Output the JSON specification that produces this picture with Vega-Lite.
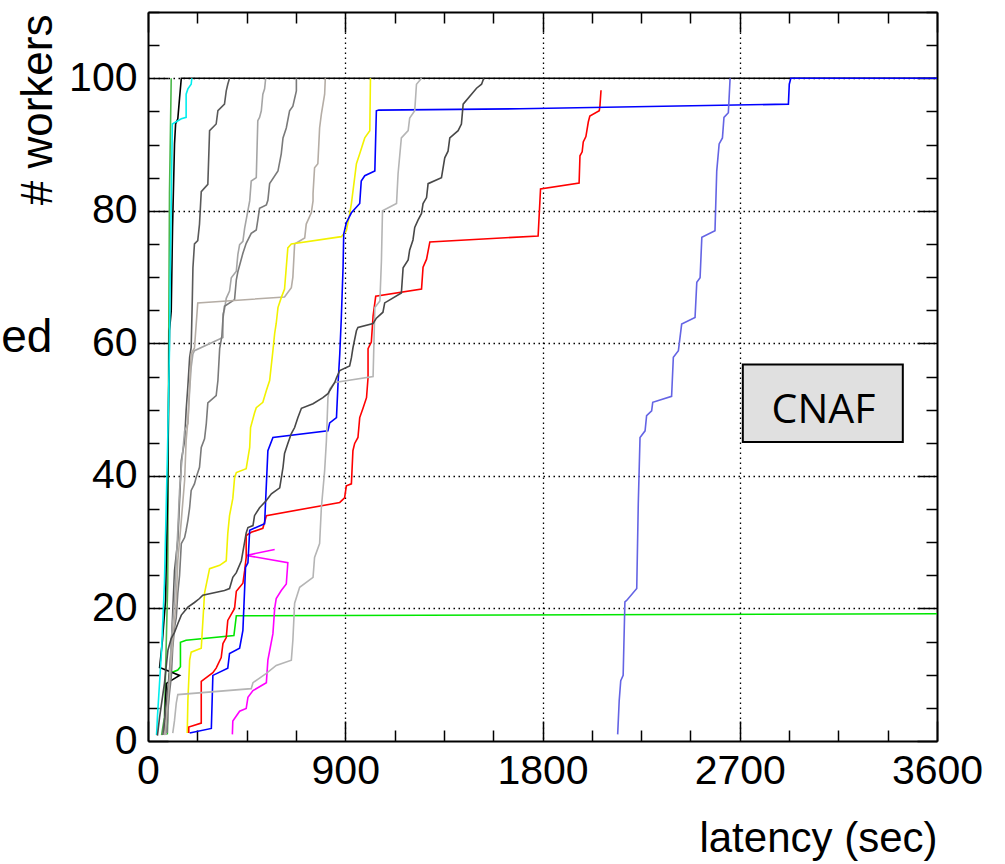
{
"$schema": "https://vega.github.io/schema/vega-lite/v6.json",
"width": 789, "height": 729,
"autosize": {"type": "none"},
"padding": {"left": 148, "top": 12, "right": 68, "bottom": 123},
"background": "white",
"config": {"view": {"stroke": null}, "font": "Liberation Sans"},
"datasets": {
"box": [{"x": 2714, "x2": 3444, "y": 45.1, "y2": 56.8, "tx": 3082, "ty": 48.0, "label": "CNAF"}],
"side": [{"x": -436, "y": 58.7, "label": "ed"}],
"lines": [
{"s":"s01","x":88,"y":1},{"s":"s01","x":90,"y":6},{"s":"s01","x":98,"y":10.2},{"s":"s01","x":136,"y":10.7},{"s":"s01","x":148,"y":11.2},{"s":"s01","x":148,"y":14.9},{"s":"s01","x":174,"y":15.2},{"s":"s01","x":392,"y":15.9},{"s":"s01","x":403,"y":18.9},{"s":"s01","x":3600,"y":19.2},
{"s":"s02","x":62,"y":0.9},{"s":"s02","x":75,"y":3.6},{"s":"s02","x":90,"y":23.8},{"s":"s02","x":94,"y":57.4},{"s":"s02","x":98,"y":82.6},{"s":"s02","x":106,"y":100},
{"s":"s03","x":75,"y":0.9},{"s":"s03","x":80,"y":6.1},{"s":"s03","x":84,"y":8.7},{"s":"s03","x":144,"y":9.9},{"s":"s03","x":53,"y":11.1},{"s":"s03","x":66,"y":15.2},{"s":"s03","x":80,"y":21.2},{"s":"s03","x":89,"y":36.3},{"s":"s03","x":94,"y":51.4},{"s":"s03","x":98,"y":61.9},{"s":"s03","x":106,"y":64.9},{"s":"s03","x":112,"y":77.4},{"s":"s03","x":121,"y":90.1},{"s":"s03","x":126,"y":93.1},{"s":"s03","x":136,"y":93.9},{"s":"s03","x":144,"y":97},{"s":"s03","x":152,"y":100},{"s":"s03","x":3600,"y":100},
{"s":"s04","x":39,"y":0.9},{"s":"s04","x":43,"y":3.6},{"s":"s04","x":62,"y":13.7},{"s":"s04","x":75,"y":23.8},{"s":"s04","x":89,"y":43.8},{"s":"s04","x":98,"y":59.2},{"s":"s04","x":103,"y":74.1},{"s":"s04","x":111,"y":93.1},{"s":"s04","x":152,"y":93.9},{"s":"s04","x":174,"y":94.1},{"s":"s04","x":174,"y":97.6},{"s":"s04","x":182,"y":98.4},{"s":"s04","x":197,"y":99.1},{"s":"s04","x":200,"y":100},
{"s":"s05","x":68,"y":0.9},{"s":"s05","x":75,"y":3.1},{"s":"s05","x":90,"y":7.6},{"s":"s05","x":106,"y":13.7},{"s":"s05","x":113,"y":19.6},{"s":"s05","x":121,"y":25.7},{"s":"s05","x":136,"y":30.3},{"s":"s05","x":144,"y":36.3},{"s":"s05","x":152,"y":42.3},{"s":"s05","x":167,"y":45.3},{"s":"s05","x":174,"y":49.9},{"s":"s05","x":182,"y":53.6},{"s":"s05","x":190,"y":57.9},{"s":"s05","x":197,"y":59.4},{"s":"s05","x":202,"y":66.4},{"s":"s05","x":205,"y":71.4},{"s":"s05","x":212,"y":75},{"s":"s05","x":227,"y":75.5},{"s":"s05","x":235,"y":78},{"s":"s05","x":243,"y":82.9},{"s":"s05","x":273,"y":84},{"s":"s05","x":281,"y":92.1},{"s":"s05","x":311,"y":93.1},{"s":"s05","x":319,"y":95.1},{"s":"s05","x":349,"y":96.1},{"s":"s05","x":357,"y":98.1},{"s":"s05","x":364,"y":99.1},{"s":"s05","x":372,"y":100},
{"s":"s06","x":83,"y":0.9},{"s":"s06","x":90,"y":3.1},{"s":"s06","x":98,"y":9.1},{"s":"s06","x":106,"y":15.2},{"s":"s06","x":121,"y":21.2},{"s":"s06","x":129,"y":27.2},{"s":"s06","x":136,"y":31.8},{"s":"s06","x":144,"y":37.8},{"s":"s06","x":152,"y":41.3},{"s":"s06","x":159,"y":43.8},{"s":"s06","x":167,"y":46.8},{"s":"s06","x":182,"y":47.9},{"s":"s06","x":190,"y":52.9},{"s":"s06","x":197,"y":56.4},{"s":"s06","x":205,"y":58.4},{"s":"s06","x":212,"y":58.9},{"s":"s06","x":342,"y":60.9},{"s":"s06","x":342,"y":64.4},{"s":"s06","x":349,"y":65.1},{"s":"s06","x":357,"y":66.8},{"s":"s06","x":372,"y":67.9},{"s":"s06","x":380,"y":69.9},{"s":"s06","x":403,"y":70.9},{"s":"s06","x":410,"y":73.4},{"s":"s06","x":418,"y":74.9},{"s":"s06","x":433,"y":75.4},{"s":"s06","x":441,"y":77.4},{"s":"s06","x":464,"y":81.5},{"s":"s06","x":471,"y":84.5},{"s":"s06","x":494,"y":85},{"s":"s06","x":501,"y":93.6},{"s":"s06","x":509,"y":94.1},{"s":"s06","x":517,"y":95.1},{"s":"s06","x":524,"y":97.6},{"s":"s06","x":532,"y":98.4},{"s":"s06","x":537,"y":100},
{"s":"s07","x":88,"y":1.2},{"s":"s07","x":90,"y":4.6},{"s":"s07","x":98,"y":7.2},{"s":"s07","x":106,"y":9.6},{"s":"s07","x":113,"y":14.1},{"s":"s07","x":121,"y":17.1},{"s":"s07","x":129,"y":18.6},{"s":"s07","x":136,"y":22.3},{"s":"s07","x":144,"y":25},{"s":"s07","x":152,"y":29.8},{"s":"s07","x":167,"y":30.7},{"s":"s07","x":174,"y":31.8},{"s":"s07","x":182,"y":33.3},{"s":"s07","x":190,"y":35.2},{"s":"s07","x":197,"y":37.8},{"s":"s07","x":212,"y":38.8},{"s":"s07","x":220,"y":39.8},{"s":"s07","x":235,"y":41.3},{"s":"s07","x":243,"y":44.3},{"s":"s07","x":258,"y":45.6},{"s":"s07","x":266,"y":47.9},{"s":"s07","x":273,"y":51},{"s":"s07","x":311,"y":52.1},{"s":"s07","x":319,"y":54.4},{"s":"s07","x":327,"y":59.2},{"s":"s07","x":337,"y":61.1},{"s":"s07","x":342,"y":63.7},{"s":"s07","x":349,"y":65.6},{"s":"s07","x":395,"y":66.6},{"s":"s07","x":403,"y":69.6},{"s":"s07","x":410,"y":70.8},{"s":"s07","x":433,"y":73.6},{"s":"s07","x":448,"y":75.1},{"s":"s07","x":471,"y":76.6},{"s":"s07","x":494,"y":77.1},{"s":"s07","x":501,"y":78.6},{"s":"s07","x":509,"y":80.4},{"s":"s07","x":540,"y":80.9},{"s":"s07","x":547,"y":81.6},{"s":"s07","x":555,"y":84.1},{"s":"s07","x":593,"y":86},{"s":"s07","x":608,"y":88.6},{"s":"s07","x":616,"y":91},{"s":"s07","x":631,"y":92.5},{"s":"s07","x":646,"y":95.1},{"s":"s07","x":661,"y":95.8},{"s":"s07","x":677,"y":98.1},{"s":"s07","x":677,"y":100},
{"s":"s08","x":75,"y":0.9},{"s":"s08","x":83,"y":3.1},{"s":"s08","x":98,"y":9.1},{"s":"s08","x":113,"y":15.2},{"s":"s08","x":129,"y":21.2},{"s":"s08","x":136,"y":27.2},{"s":"s08","x":152,"y":33.3},{"s":"s08","x":167,"y":39.3},{"s":"s08","x":174,"y":45.3},{"s":"s08","x":182,"y":48.3},{"s":"s08","x":190,"y":53.6},{"s":"s08","x":197,"y":58.4},{"s":"s08","x":212,"y":59.3},{"s":"s08","x":227,"y":66.1},{"s":"s08","x":623,"y":67},{"s":"s08","x":654,"y":68.4},{"s":"s08","x":661,"y":70},{"s":"s08","x":669,"y":75},{"s":"s08","x":715,"y":75.9},{"s":"s08","x":722,"y":78},{"s":"s08","x":745,"y":79.7},{"s":"s08","x":753,"y":81.5},{"s":"s08","x":753,"y":82.6},{"s":"s08","x":760,"y":86.5},{"s":"s08","x":775,"y":87.1},{"s":"s08","x":783,"y":92.5},{"s":"s08","x":791,"y":94.6},{"s":"s08","x":806,"y":97.6},{"s":"s08","x":809,"y":100},
{"s":"s09","x":179,"y":1.2},{"s":"s09","x":182,"y":6.1},{"s":"s09","x":190,"y":12.2},{"s":"s09","x":197,"y":13.4},{"s":"s09","x":243,"y":14},{"s":"s09","x":258,"y":22.3},{"s":"s09","x":281,"y":26},{"s":"s09","x":327,"y":26.5},{"s":"s09","x":357,"y":27.2},{"s":"s09","x":364,"y":31.3},{"s":"s09","x":372,"y":34},{"s":"s09","x":387,"y":36.6},{"s":"s09","x":395,"y":39.7},{"s":"s09","x":403,"y":40.5},{"s":"s09","x":448,"y":41.1},{"s":"s09","x":464,"y":44.3},{"s":"s09","x":468,"y":47.3},{"s":"s09","x":486,"y":49.5},{"s":"s09","x":494,"y":50.3},{"s":"s09","x":524,"y":51.1},{"s":"s09","x":540,"y":52.9},{"s":"s09","x":555,"y":54.4},{"s":"s09","x":570,"y":58.9},{"s":"s09","x":578,"y":61.5},{"s":"s09","x":585,"y":63},{"s":"s09","x":593,"y":65.4},{"s":"s09","x":608,"y":66.9},{"s":"s09","x":623,"y":68.2},{"s":"s09","x":638,"y":74.4},{"s":"s09","x":654,"y":75},{"s":"s09","x":882,"y":76.1},{"s":"s09","x":905,"y":77},{"s":"s09","x":920,"y":79.5},{"s":"s09","x":928,"y":81.1},{"s":"s09","x":943,"y":85},{"s":"s09","x":951,"y":87.1},{"s":"s09","x":966,"y":88.6},{"s":"s09","x":989,"y":91},{"s":"s09","x":1012,"y":92.1},{"s":"s09","x":1015,"y":100},
{"s":"s10","x":385,"y":1},{"s":"s10","x":387,"y":3},{"s":"s10","x":418,"y":4.5},{"s":"s10","x":448,"y":4.9},{"s":"s10","x":456,"y":6.6},{"s":"s10","x":479,"y":7.6},{"s":"s10","x":540,"y":8.8},{"s":"s10","x":547,"y":12.2},{"s":"s10","x":570,"y":16.2},{"s":"s10","x":578,"y":20},{"s":"s10","x":585,"y":21.5},{"s":"s10","x":608,"y":22.7},{"s":"s10","x":631,"y":23.7},{"s":"s10","x":638,"y":26.9},{"s":"s10","x":448,"y":28},{"s":"s10","x":578,"y":28.9},
{"s":"s11","x":186,"y":1.2},{"s":"s11","x":186,"y":2.1},{"s":"s11","x":243,"y":2.7},{"s":"s11","x":243,"y":9},{"s":"s11","x":296,"y":10.3},{"s":"s11","x":311,"y":11},{"s":"s11","x":334,"y":12.6},{"s":"s11","x":342,"y":14.7},{"s":"s11","x":357,"y":15.6},{"s":"s11","x":364,"y":18.2},{"s":"s11","x":395,"y":20},{"s":"s11","x":403,"y":22.6},{"s":"s11","x":433,"y":23.8},{"s":"s11","x":441,"y":25.7},{"s":"s11","x":448,"y":27.7},{"s":"s11","x":448,"y":31},{"s":"s11","x":471,"y":31.5},{"s":"s11","x":524,"y":32.1},{"s":"s11","x":540,"y":34},{"s":"s11","x":875,"y":36},{"s":"s11","x":897,"y":36.7},{"s":"s11","x":905,"y":38.5},{"s":"s11","x":928,"y":38.8},{"s":"s11","x":935,"y":43.8},{"s":"s11","x":943,"y":44.9},{"s":"s11","x":958,"y":45.8},{"s":"s11","x":966,"y":48.8},{"s":"s11","x":981,"y":50.2},{"s":"s11","x":997,"y":51.8},{"s":"s11","x":1004,"y":54.8},{"s":"s11","x":1004,"y":59.2},{"s":"s11","x":1019,"y":60.2},{"s":"s11","x":1027,"y":64.1},{"s":"s11","x":1039,"y":67.1},{"s":"s11","x":1248,"y":68.2},{"s":"s11","x":1255,"y":71.5},{"s":"s11","x":1271,"y":72.7},{"s":"s11","x":1286,"y":75.3},{"s":"s11","x":1780,"y":76.2},{"s":"s11","x":1791,"y":83.3},{"s":"s11","x":1967,"y":84.2},{"s":"s11","x":1971,"y":88.3},{"s":"s11","x":1981,"y":88.9},{"s":"s11","x":1986,"y":90.4},{"s":"s11","x":1998,"y":91.2},{"s":"s11","x":2009,"y":93.4},{"s":"s11","x":2016,"y":94.3},{"s":"s11","x":2059,"y":95.1},{"s":"s11","x":2062,"y":95.8},{"s":"s11","x":2067,"y":98.2},
{"s":"s12","x":190,"y":1.2},{"s":"s12","x":289,"y":1.9},{"s":"s12","x":296,"y":9.9},{"s":"s12","x":364,"y":11},{"s":"s12","x":372,"y":13.2},{"s":"s12","x":418,"y":14},{"s":"s12","x":433,"y":16.7},{"s":"s12","x":445,"y":26.2},{"s":"s12","x":456,"y":26.9},{"s":"s12","x":464,"y":31.8},{"s":"s12","x":532,"y":32.8},{"s":"s12","x":547,"y":43.8},{"s":"s12","x":570,"y":45.8},{"s":"s12","x":821,"y":46.8},{"s":"s12","x":829,"y":48},{"s":"s12","x":860,"y":48.8},{"s":"s12","x":867,"y":53.9},{"s":"s12","x":875,"y":58.4},{"s":"s12","x":882,"y":63.8},{"s":"s12","x":890,"y":71.4},{"s":"s12","x":893,"y":76.5},{"s":"s12","x":905,"y":78.2},{"s":"s12","x":928,"y":79.7},{"s":"s12","x":966,"y":81.1},{"s":"s12","x":973,"y":84.5},{"s":"s12","x":989,"y":85.3},{"s":"s12","x":1035,"y":86},{"s":"s12","x":1042,"y":95.1},{"s":"s12","x":1053,"y":95.2},{"s":"s12","x":1696,"y":95.4},{"s":"s12","x":2922,"y":96.1},{"s":"s12","x":2926,"y":99.1},{"s":"s12","x":2933,"y":100},{"s":"s12","x":3600,"y":100},
{"s":"s13","x":113,"y":1.2},{"s":"s13","x":121,"y":3.1},{"s":"s13","x":129,"y":5.7},{"s":"s13","x":136,"y":7},{"s":"s13","x":471,"y":7.9},{"s":"s13","x":479,"y":8.8},{"s":"s13","x":509,"y":9.5},{"s":"s13","x":540,"y":10.2},{"s":"s13","x":585,"y":11.4},{"s":"s13","x":654,"y":12.2},{"s":"s13","x":661,"y":15.2},{"s":"s13","x":669,"y":20.8},{"s":"s13","x":692,"y":23.2},{"s":"s13","x":753,"y":24.7},{"s":"s13","x":760,"y":27.7},{"s":"s13","x":783,"y":29.8},{"s":"s13","x":791,"y":35.2},{"s":"s13","x":806,"y":40.8},{"s":"s13","x":814,"y":45.3},{"s":"s13","x":821,"y":51.8},{"s":"s13","x":829,"y":53.1},{"s":"s13","x":852,"y":54.1},{"s":"s13","x":1027,"y":55},{"s":"s13","x":1035,"y":65.4},{"s":"s13","x":1058,"y":66.4},{"s":"s13","x":1065,"y":72.4},{"s":"s13","x":1070,"y":80},{"s":"s13","x":1134,"y":81.1},{"s":"s13","x":1141,"y":85.6},{"s":"s13","x":1156,"y":91},{"s":"s13","x":1187,"y":92.1},{"s":"s13","x":1194,"y":94},{"s":"s13","x":1217,"y":95.1},{"s":"s13","x":1225,"y":99.1},{"s":"s13","x":1248,"y":100},
{"s":"s14","x":43,"y":0.8},{"s":"s14","x":53,"y":3.6},{"s":"s14","x":75,"y":8.7},{"s":"s14","x":91,"y":13.7},{"s":"s14","x":106,"y":15.5},{"s":"s14","x":121,"y":16.4},{"s":"s14","x":136,"y":17.7},{"s":"s14","x":152,"y":19},{"s":"s14","x":182,"y":20.2},{"s":"s14","x":212,"y":20.9},{"s":"s14","x":235,"y":21.5},{"s":"s14","x":250,"y":22},{"s":"s14","x":349,"y":22.7},{"s":"s14","x":372,"y":23},{"s":"s14","x":387,"y":24.7},{"s":"s14","x":403,"y":25.4},{"s":"s14","x":426,"y":27.2},{"s":"s14","x":448,"y":31.4},{"s":"s14","x":456,"y":32.2},{"s":"s14","x":479,"y":32.5},{"s":"s14","x":486,"y":34},{"s":"s14","x":509,"y":35.2},{"s":"s14","x":540,"y":36.3},{"s":"s14","x":563,"y":37.3},{"s":"s14","x":601,"y":38.2},{"s":"s14","x":616,"y":41.3},{"s":"s14","x":623,"y":43.4},{"s":"s14","x":638,"y":44.9},{"s":"s14","x":654,"y":46.4},{"s":"s14","x":669,"y":47.3},{"s":"s14","x":684,"y":48.8},{"s":"s14","x":700,"y":50.2},{"s":"s14","x":753,"y":50.9},{"s":"s14","x":798,"y":51.8},{"s":"s14","x":821,"y":52.4},{"s":"s14","x":837,"y":53.3},{"s":"s14","x":852,"y":54.1},{"s":"s14","x":860,"y":54.8},{"s":"s14","x":875,"y":55.9},{"s":"s14","x":920,"y":56.6},{"s":"s14","x":928,"y":57.8},{"s":"s14","x":935,"y":59.3},{"s":"s14","x":951,"y":61.9},{"s":"s14","x":958,"y":62.4},{"s":"s14","x":1027,"y":63},{"s":"s14","x":1042,"y":63.8},{"s":"s14","x":1072,"y":64.7},{"s":"s14","x":1080,"y":66.1},{"s":"s14","x":1156,"y":67.6},{"s":"s14","x":1164,"y":71.4},{"s":"s14","x":1187,"y":72.6},{"s":"s14","x":1194,"y":74.1},{"s":"s14","x":1209,"y":75.6},{"s":"s14","x":1217,"y":77.5},{"s":"s14","x":1232,"y":78.6},{"s":"s14","x":1248,"y":79.6},{"s":"s14","x":1255,"y":81.1},{"s":"s14","x":1271,"y":82},{"s":"s14","x":1278,"y":84.1},{"s":"s14","x":1339,"y":85},{"s":"s14","x":1354,"y":88},{"s":"s14","x":1369,"y":89},{"s":"s14","x":1377,"y":91},{"s":"s14","x":1415,"y":92.1},{"s":"s14","x":1430,"y":93.1},{"s":"s14","x":1438,"y":96.1},{"s":"s14","x":1499,"y":98.5},{"s":"s14","x":1522,"y":99.1},{"s":"s14","x":1532,"y":100},
{"s":"s15","x":2143,"y":1},{"s":"s15","x":2150,"y":6.1},{"s":"s15","x":2157,"y":9.1},{"s":"s15","x":2168,"y":9.9},{"s":"s15","x":2176,"y":21},{"s":"s15","x":2184,"y":21.2},{"s":"s15","x":2230,"y":23},{"s":"s15","x":2237,"y":35.8},{"s":"s15","x":2245,"y":45.8},{"s":"s15","x":2252,"y":46.1},{"s":"s15","x":2268,"y":46.8},{"s":"s15","x":2275,"y":49.1},{"s":"s15","x":2298,"y":49.8},{"s":"s15","x":2303,"y":51.1},{"s":"s15","x":2389,"y":52},{"s":"s15","x":2397,"y":57.9},{"s":"s15","x":2420,"y":58.9},{"s":"s15","x":2435,"y":62.9},{"s":"s15","x":2496,"y":63.9},{"s":"s15","x":2504,"y":69.2},{"s":"s15","x":2519,"y":69.9},{"s":"s15","x":2527,"y":76},{"s":"s15","x":2587,"y":77},{"s":"s15","x":2595,"y":86},{"s":"s15","x":2606,"y":90.1},{"s":"s15","x":2621,"y":91},{"s":"s15","x":2628,"y":94.1},{"s":"s15","x":2648,"y":94.8},{"s":"s15","x":2656,"y":100}
]},
"layer": [
{
"data": {"name": "lines"},
"mark": {"type": "line", "strokeWidth": 1.6},
"encoding": {
"x": {"field": "x", "type": "quantitative", "scale": {"domain": [0, 3600], "nice": false, "zero": false},
 "axis": {"orient": "bottom", "values": [0,225,450,675,900,1125,1350,1575,1800,2025,2250,2475,2700,2925,3150,3375,3600], "format": "d",
  "labelExpr": "datum.value % 900 === 0 ? datum.label : ''",
  "tickSize": {"condition": {"test": "datum.value % 900 === 0", "value": -20}, "value": -11},
  "tickColor": "black", "tickWidth": 1.5, "domainColor": "black", "domainWidth": 2,
  "grid": true, "gridColor": "black", "gridWidth": 1.3, "gridDash": [1.5, 3.5],
  "gridOpacity": {"condition": {"test": "datum.value % 900 === 0 && datum.value > 0 && datum.value < 3600", "value": 1}, "value": 0},
  "labelFont": "Liberation Sans", "labelFontSize": 41, "labelColor": "black", "labelPadding": 30, "labelFlush": false, "labelOverlap": false, "labelBound": false,
  "title": "latency (sec)", "titleFont": "Liberation Sans", "titleFontSize": 42, "titleFontWeight": "normal", "titleColor": "black",
  "titleAnchor": "end", "titleAlign": "right", "titleBaseline": "alphabetic", "titleX": 789, "titleY": 110}},
"y": {"field": "y", "type": "quantitative", "scale": {"domain": [0, 110], "nice": false, "zero": false},
 "axis": {"orient": "left", "values": [0,5,10,15,20,25,30,35,40,45,50,55,60,65,70,75,80,85,90,95,100,105,110], "format": "d",
  "labelExpr": "datum.value % 20 === 0 && datum.value <= 100 ? datum.label : ''",
  "tickSize": {"condition": {"test": "datum.value % 20 === 0", "value": -20}, "value": -11},
  "tickColor": "black", "tickWidth": 1.5, "domainColor": "black", "domainWidth": 2,
  "grid": true, "gridColor": "black", "gridWidth": 1.3, "gridDash": [1.5, 3.5],
  "gridOpacity": {"condition": {"test": "datum.value % 20 === 0 && datum.value > 0 && datum.value <= 100", "value": 1}, "value": 0},
  "labelFont": "Liberation Sans", "labelFontSize": 41, "labelColor": "black", "labelPadding": 31, "labelFlush": false, "labelOverlap": false, "labelBound": false,
  "title": "# workers", "titleFont": "Liberation Sans", "titleFontSize": 44, "titleFontWeight": "normal", "titleColor": "black",
  "titleAngle": 270, "titleAlign": "right", "titleBaseline": "alphabetic", "titleX": -97, "titleY": 2}},
"color": {"field": "s", "type": "nominal", "legend": null,
 "scale": {"domain": ["s01","s02","s03","s04","s05","s06","s07","s08","s09","s10","s11","s12","s13","s14","s15"],
  "range": ["#00e600","#4cb84c","#000000","#00eeee","#5a5a5a","#a5a5a5","#7a7a7a","#b5ada5","#f2f200","#ff00ff","#ff0000","#0000ff","#b5b5b5","#484848","#6464e4"]}},
"order": {"value": null}
}
},
{
"data": {"name": "box"},
"mark": {"type": "rect", "fill": "#e0e0e0", "stroke": "black", "strokeWidth": 2},
"encoding": {
"x": {"field": "x", "type": "quantitative", "scale": {"domain": [0, 3600], "nice": false, "zero": false},
 "axis": {"orient": "top", "values": [0,225,450,675,900,1125,1350,1575,1800,2025,2250,2475,2700,2925,3150,3375,3600],
  "labels": false, "grid": false, "title": null,
  "tickSize": {"condition": {"test": "datum.value % 900 === 0", "value": -20}, "value": -11},
  "tickColor": "black", "tickWidth": 1.5, "domainColor": "black", "domainWidth": 2}},
"x2": {"field": "x2"},
"y": {"field": "y", "type": "quantitative", "scale": {"domain": [0, 110], "nice": false, "zero": false},
 "axis": {"orient": "right", "values": [0,5,10,15,20,25,30,35,40,45,50,55,60,65,70,75,80,85,90,95,100,105,110],
  "labels": false, "grid": false, "title": null,
  "tickSize": {"condition": {"test": "datum.value % 20 === 0", "value": -20}, "value": -11},
  "tickColor": "black", "tickWidth": 1.5, "domainColor": "black", "domainWidth": 2}},
"y2": {"field": "y2"}
}
},
{
"data": {"name": "box"},
"mark": {"type": "text", "font": "Open Sans", "fontSize": 41, "align": "center", "baseline": "alphabetic", "color": "black"},
"encoding": {
"x": {"field": "tx", "type": "quantitative", "scale": {"domain": [0, 3600], "nice": false, "zero": false}, "axis": null},
"y": {"field": "ty", "type": "quantitative", "scale": {"domain": [0, 110], "nice": false, "zero": false}, "axis": null},
"text": {"field": "label"}
}
},
{
"data": {"name": "side"},
"mark": {"type": "text", "font": "Liberation Sans", "fontSize": 46, "align": "right", "baseline": "alphabetic", "color": "black"},
"encoding": {
"x": {"field": "x", "type": "quantitative", "scale": {"domain": [0, 3600], "nice": false, "zero": false}, "axis": null},
"y": {"field": "y", "type": "quantitative", "scale": {"domain": [0, 110], "nice": false, "zero": false}, "axis": null},
"text": {"field": "label"}
}
}
],
"resolve": {"axis": {"x": "independent", "y": "independent"}}
}
